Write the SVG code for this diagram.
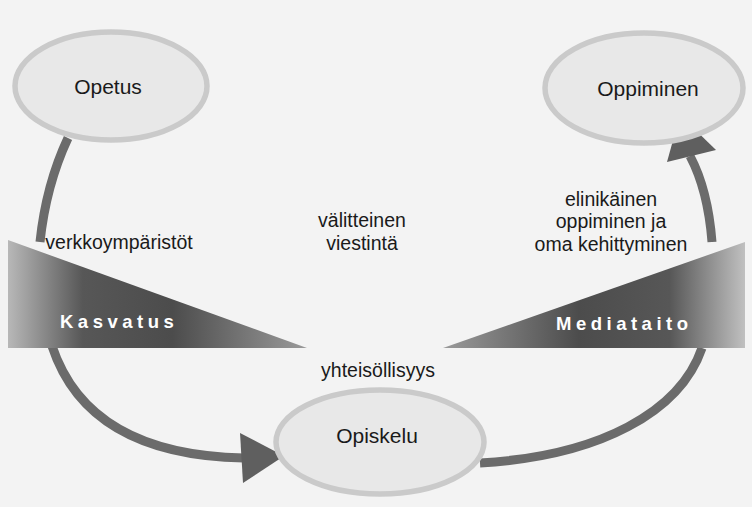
<svg xmlns="http://www.w3.org/2000/svg" width="752" height="507" viewBox="0 0 752 507">
<style>
.node ellipse{fill:#e8e8e8;stroke:#cacaca;stroke-width:5.5}
.nt{font-family:"Liberation Sans",Arial,sans-serif;font-size:21px;fill:#1a1a1a;text-anchor:middle}
.lbl{font-family:"Liberation Sans",Arial,sans-serif;font-size:19.5px;fill:#1a1a1a;text-anchor:middle}
.band{font-family:"Liberation Sans",Arial,sans-serif;font-size:18.5px;font-weight:bold;fill:#ffffff;letter-spacing:4.5px}
.arc{fill:none;stroke:#6b6b6b;stroke-width:9}
.head{fill:#5f5f5f}
</style>
<defs>
<linearGradient id="gL" x1="8" y1="0" x2="307" y2="0" gradientUnits="userSpaceOnUse">
<stop offset="0" stop-color="#b8b8b8"/>
<stop offset="0.25" stop-color="#575757"/>
<stop offset="0.55" stop-color="#4c4c4c"/>
<stop offset="1" stop-color="#9a9a9a"/>
</linearGradient>
<linearGradient id="gR" x1="443" y1="0" x2="745" y2="0" gradientUnits="userSpaceOnUse">
<stop offset="0" stop-color="#9a9a9a"/>
<stop offset="0.45" stop-color="#4c4c4c"/>
<stop offset="0.75" stop-color="#575757"/>
<stop offset="1" stop-color="#c0c0c0"/>
</linearGradient>
</defs>
<rect width="752" height="507" fill="#f3f3f3"/>

<g id="connectors">
<path class="arc" d="M68,138 Q46,185 40,242"/>
<path class="arc" d="M52,346 Q88,455 244,458"/>
<polygon class="head" points="240,433 284,456 243,483"/>
<path class="arc" d="M480,463 C600,456 680,412 702,348"/>
<path class="arc" d="M712,242 Q708,190 690,156"/>
<polygon class="head" points="680,115 716,150 667,162"/>
</g>

<g id="kasvatus">
<polygon points="8,240 8,348 307,348" fill="url(#gL)"/>
<text class="band" x="60" y="328">Kasvatus</text>
</g>
<g id="mediataito">
<polygon points="443,348 745,242 745,348" fill="url(#gR)"/>
<text class="band" x="556" y="330">Mediataito</text>
</g>

<g id="opetus" class="node">
<ellipse cx="111" cy="86" rx="96" ry="54"/>
<text class="nt" x="108" y="94">Opetus</text>
</g>
<g id="oppiminen" class="node">
<ellipse cx="644" cy="88" rx="99" ry="55"/>
<text class="nt" x="648" y="96">Oppiminen</text>
</g>
<g id="opiskelu" class="node">
<ellipse cx="380" cy="442" rx="104" ry="52"/>
<text class="nt" x="377" y="443">Opiskelu</text>
</g>

<g id="labels">
<text class="lbl" x="119" y="249">verkkoympäristöt</text>
<text class="lbl" x="362" y="227">välitteinen</text>
<text class="lbl" x="362" y="250">viestintä</text>
<text class="lbl" x="611" y="206">elinikäinen</text>
<text class="lbl" x="611" y="228">oppiminen ja</text>
<text class="lbl" x="611" y="251">oma kehittyminen</text>
<text class="lbl" x="378" y="377">yhteisöllisyys</text>
</g>
</svg>
